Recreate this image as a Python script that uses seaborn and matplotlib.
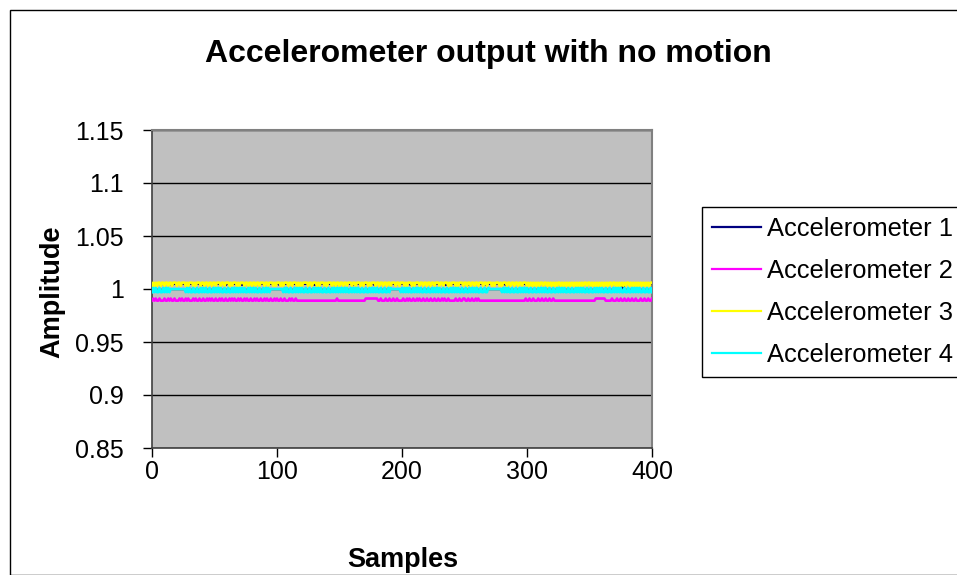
import numpy as np
import pandas as pd
import matplotlib
matplotlib.use("Agg")
import matplotlib.pyplot as plt
import seaborn as sns
from matplotlib.patches import Rectangle

# ---------------- data ----------------
series_names = ["Accelerometer 1", "Accelerometer 2", "Accelerometer 3", "Accelerometer 4"]
series_colors = ["#000080", "#FF00FF", "#FFFF00", "#00FFFF"]

# each character = one sample, value = base + digit * 0.001
acc1_base = 0.998
acc1_levels = (
    "77777 77677 77777 76777 77777 77767 77777 77777 67777 77777"
    "77777 77776 77777 77777 77677 77777 77777 76777 77777 77777"
    "77677 77777 77777 77767 77777 77777 67777 77777 77777 77677"
    "77777 77777 76777 77777 77777 77767 77777 77777 77777 67777"
    "77777 77677 77777 77777 77767 77777 77777 67777 77777 77777"
    "77776 77777 77777 77677 77777 77777 77767 77777 77777 77777"
    "67777 77777 77777 77677 77777 77777 77777 76777 77777 77777"
    "77777 77767 77777 77777 77777 72277 77777 77677 77777 77777"
    "7"
)

acc2_base = 0.988
acc2_levels = (
    "13131 13111 31131 31131 11313 11313 11131 31131 13113 13131"
    "13113 13113 11313 13113 13113 13113 11313 11311 31311 31131"
    "31131 13111 31311 31111 11111 11111 11111 11111 11111 11131"
    "11111 11111 11111 11111 13333 33333 31131 11311 31131 13111"
    "13113 13113 11313 11311 31131 13113 11313 11311 11131 13113"
    "31131 13113 13111 11111 11111 11111 11111 11111 11111 11113"
    "11311 31113 11311 31131 13111 11111 11111 11111 11111 11111"
    "11111 33333 33311 11131 11311 31131 13113 11311 13113 11311"
    "3"
)

acc3_base = 1.000
acc3_levels = (
    "36363 66366 36636 63666 36636 66363 66636 36663 66366 36636"
    "63666 36636 66363 66636 36663 66366 36636 63666 36636 66363"
    "66636 36663 66366 63636 36666 36636 66363 66636 36663 66366"
    "36636 63666 36636 66363 66636 36663 66366 36636 63666 36636"
    "66363 66636 36663 66366 36636 63666 36636 66363 66636 36663"
    "66366 36636 63666 36636 66363 66636 36663 66366 36636 63666"
    "36363 63636 36636 63636 36363 66363 63636 36363 63636 36636"
    "63636 36363 63636 36636 63636 36363 66363 63636 36363 63636"
    "6"
)

acc4_base = 0.996
acc4_levels = (
    "15151 15115 15151 44444 44444 44151 51151 15115 15151 15115"
    "15151 51151 15115 15151 51515 11515 15151 15115 15151 44444"
    "44444 15151 15115 15151 51151 15115 15151 51151 15115 15151"
    "51515 15115 15151 51151 15115 15151 51151 15115 15444 44441"
    "51515 15115 15151 51151 15115 15151 51151 15115 15151 51151"
    "15115 15151 51151 15115 44444 44444 15151 51151 15115 15151"
    "51151 15115 15151 51151 15115 15151 51151 15115 15151 51151"
    "15115 15151 51151 15115 15151 51151 15115 15151 51151 15115"
    "1"
)

y_ticks = [0.85, 0.9, 0.95, 1.0, 1.05, 1.1, 1.15]
y_tick_labels = ["0.85", "0.9", "0.95", "1", "1.05", "1.1", "1.15"]
x_ticks = [0, 100, 200, 300, 400]
x_tick_labels = ["0", "100", "200", "300", "400"]


def decode(base, s):
    s = s.replace(" ", "")
    return [round(base + int(c) * 0.001, 3) for c in s]


frames = []
for name, base, lev in zip(series_names,
                           [acc1_base, acc2_base, acc3_base, acc4_base],
                           [acc1_levels, acc2_levels, acc3_levels, acc4_levels]):
    vals = decode(base, lev)
    frames.append(pd.DataFrame({"Sample": np.arange(len(vals)),
                                "Amplitude": vals,
                                "Series": name}))
df = pd.concat(frames, ignore_index=True)

# ---------------- figure ----------------
plt.rcParams["font.family"] = ["Liberation Sans", "DejaVu Sans"]
W, H = 957, 575
fig = plt.figure(figsize=(W / 100, H / 100), dpi=100)
fig.patch.set_facecolor("white")

ax_l, ax_r, ax_t, ax_b = 152, 652, 130, 448
ax = fig.add_axes([ax_l / W, 1 - ax_b / H, (ax_r - ax_l) / W, (ax_b - ax_t) / H])
ax.set_facecolor("#C0C0C0")

sns.lineplot(data=df, x="Sample", y="Amplitude", hue="Series",
             hue_order=series_names, palette=series_colors,
             linewidth=1.9, ax=ax, legend=True, zorder=3)

ax.set_xlim(0, 400)
ax.set_ylim(0.85, 1.15)
ax.set_yticks(y_ticks)
ax.set_yticklabels(y_tick_labels)
ax.set_xticks(x_ticks)
ax.set_xticklabels(x_tick_labels)
ax.tick_params(axis="both", direction="out", length=6.5, width=1,
               labelsize=18, colors="black")
ax.tick_params(axis="y", pad=14)
ax.tick_params(axis="x", pad=2)
ax.yaxis.grid(True, color="black", linewidth=1, zorder=1)
ax.xaxis.grid(False)
ax.set_axisbelow(True)
ax.set_xlabel("")
ax.set_ylabel("")
for side in ["top", "right"]:
    ax.spines[side].set_color("#808080")
    ax.spines[side].set_linewidth(1.5)
for side in ["left", "bottom"]:
    ax.spines[side].set_color("#404040")
    ax.spines[side].set_linewidth(1.2)

# legend
handles, labels = ax.get_legend_handles_labels()
leg = ax.legend(handles, labels, loc="upper left",
                bbox_to_anchor=(702 / W, 1 - 207 / H),
                bbox_transform=fig.transFigure,
                fontsize=18.4, frameon=True, fancybox=False,
                edgecolor="black", framealpha=1, handlelength=1.9,
                handletextpad=0.25, labelspacing=0.7, borderpad=0.4,
                borderaxespad=0)
leg.get_frame().set_linewidth(1)
for line in leg.get_lines():
    line.set_linewidth(1.6)

# texts
fig.text(488 / W, 1 - 54 / H, "Accelerometer output with no motion",
         ha="center", va="center", fontsize=23, fontweight="bold")
fig.text(52 / W, 1 - 292 / H, "Amplitude", ha="center", va="center",
         rotation=90, fontsize=19.5, fontweight="bold")
fig.text(403 / W, 1 - 560 / H, "Samples", ha="center", va="center",
         fontsize=19.5, fontweight="bold")

# chart-area border
fig.add_artist(Rectangle((9.5 / W, 1 - 574.5 / H), 960 / W, 565 / H,
                         transform=fig.transFigure, fill=False,
                         edgecolor="black", linewidth=1))

fig.savefig("out.png", dpi=100)
